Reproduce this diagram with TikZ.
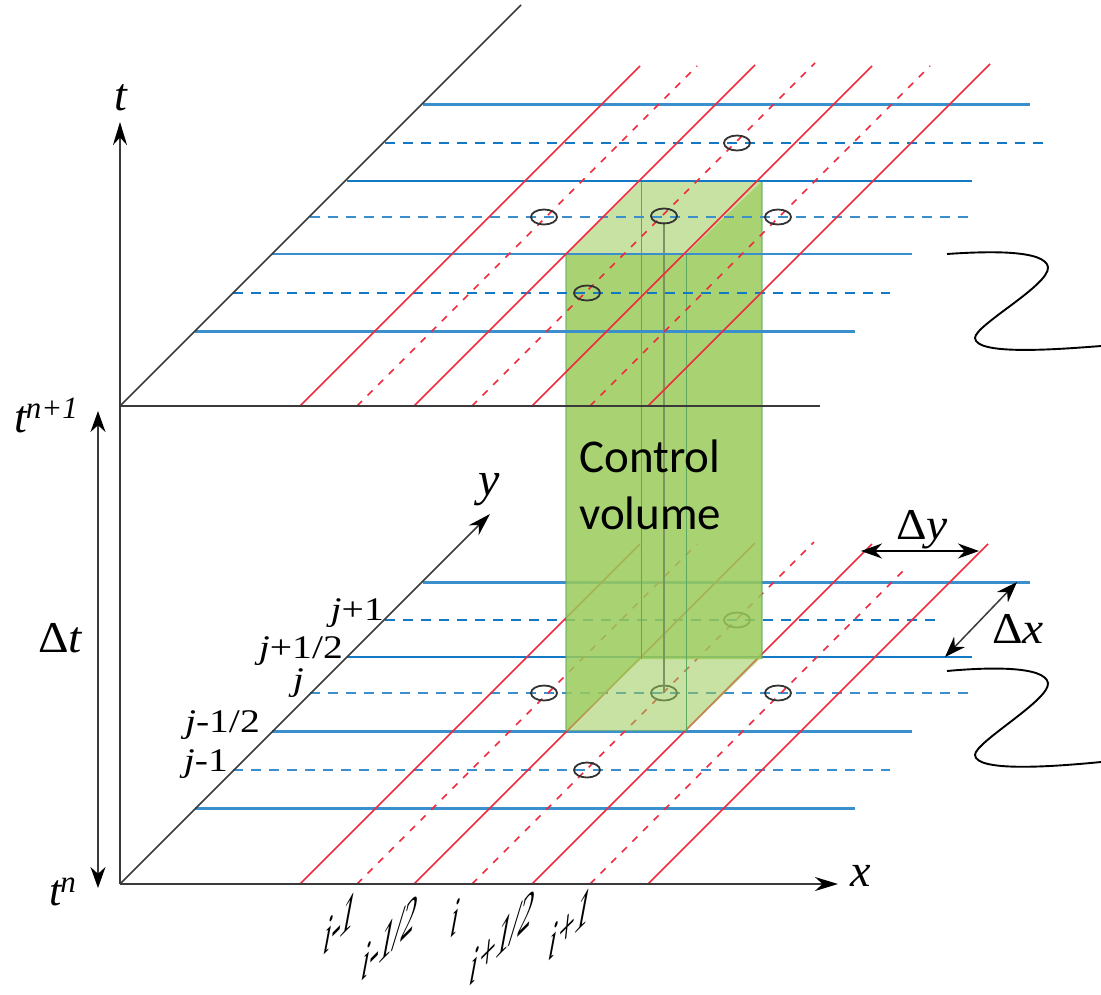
\documentclass[tikz,border=0pt]{standalone}
\usepackage{fontspec}
\usepackage{graphicx}
\setmainfont{Liberation Serif}
\newfontfamily\calfont{Carlito}
\usetikzlibrary{arrows.meta,shapes.geometric}
\definecolor{bluel}{HTML}{3A8FCC}
\definecolor{bluedk}{HTML}{1479C4}
\definecolor{redl}{HTML}{F02A3E}
\definecolor{greend}{HTML}{9ACB59}
\definecolor{greenl}{HTML}{5FA85F}
\definecolor{axisc}{HTML}{3A3A3A}
\definecolor{corec}{HTML}{7A9460}
\tikzset{
  x=1pt,y=-1pt,
  bsolid/.style={draw=bluel,line width=3pt},
  bsolidm/.style={draw=bluel,line width=2.2pt},
  bsolidt/.style={draw=bluedk,line width=1.7pt},
  bdash/.style={draw=bluel,line width=2.8pt,dash pattern=on 10pt off 8pt},
  bdasht/.style={draw=bluedk,line width=1.7pt,dash pattern=on 10pt off 8pt},
  rsolid/.style={draw=redl,line width=1.7pt},
  rdash/.style={draw=redl,line width=1.6pt,dash pattern=on 7pt off 8pt},
  axisl/.style={draw=axisc,line width=2pt},
  diagl/.style={draw=axisc,line width=1.5pt},
  tip/.style={-{Stealth[length=23pt,width=14pt,color=black]}},
  bitip/.style={{Stealth[length=21pt,width=15pt,color=black]}-{Stealth[length=21pt,width=15pt,color=black]}},
  cell/.style={draw=black!80,line width=1.8pt,ellipse,minimum width=26pt,minimum height=15pt,inner sep=0pt},
  lbl/.style={inner sep=0pt,font=\fontsize{33}{33}\selectfont},
  biglbl/.style={inner sep=0pt,font=\fontsize{44}{44}\selectfont},
  ctext/.style={inner sep=0pt,align=left,anchor=north west,font=\calfont\fontsize{47}{57}\selectfont},
}
\newcommand{\tilted}[4]{\begin{scope}[shift={(#2,#3)},cm={0.6,0.6,0.12,1.1,(0,0)}]\node[transform shape,inner sep=0pt,font=\fontsize{48}{48}\selectfont\itshape] (#1) at (0,0) {#4};\end{scope}}
\begin{document}
\begin{tikzpicture}
\useasboundingbox (0,0) rectangle (1101,994);
% lower plane, lying behind the green volume
\draw[bsolid] (195,808) -- (855,808);
\draw[bdash]  (233,770) -- (890,770);
\draw[bsolid] (272,731) -- (912,731);
\draw[bdash]  (310,693) -- (970,693);
\draw[bsolidm,draw=bluedk] (347,657) -- (972,657);
\draw[bdasht] (385,620) -- (940,620);
\draw[bsolid] (423,582) -- (1030,582);
\foreach \s/\e in {300/340,414/341,532/340,648/340}{\draw[rsolid] (\s,884) -- ++(\e,-\e);}
\foreach \s/\e in {357/340,472/342,590/316}{\draw[rdash] (\s,884) -- ++(\e,-\e);}
\foreach \n/\cx/\cy in {a/544/693,b/664/693,c/778/693,d/587/770,e/737/620}{\node[cell] (low\n) at (\cx,\cy) {};}
% control volume
\fill[greend,opacity=.85] (566,254) -- (686,254) -- (762,181) -- (762,659) -- (641,659) -- (566,731) -- cycle;
\fill[greend,opacity=.55] (566,254) -- (641,181) -- (762,181) -- (686,254) -- cycle;
\fill[greend,opacity=.55] (566,731) -- (641,657) -- (762,657) -- (686,731) -- cycle;
\draw[greenl,line width=1pt] (641,181) -- (641,659) (686,254) -- (686,731);
\draw[corec,line width=1.6pt] (664,222) -- (664,693);
\draw[greenl,opacity=.5,line width=1.6pt] (566,254) -- (566,731) (762,181) -- (762,659);
% upper plane
\draw[bsolid] (195,331) -- (855,331);
\draw[bdasht] (233,293) -- (890,293);
\draw[bsolidm] (272,254) -- (912,254);
\draw[bdash]  (310,217) -- (970,217);
\draw[bsolidt] (347,181) -- (972,181);
\draw[bdash,draw=bluedk] (385,143) -- (1043,143);
\draw[bsolid] (423,104) -- (1030,104);
\foreach \s/\e in {300/340,414/341,532/340,648/342}{\draw[rsolid] (\s,406) -- ++(\e,-\e);}
\foreach \s/\e in {357/340,472/343,590/340}{\draw[rdash] (\s,406) -- ++(\e,-\e);}
\foreach \n/\cx/\cy in {a/544/217,b/664/216,c/778/217,d/587/293,e/737/143}{\node[cell] (up\n) at (\cx,\cy) {};}
% axes
\coordinate (org) at (120,884);
\coordinate (orgtop) at (120,406);
\coordinate (tend) at (120,122);
\coordinate (xend) at (838,884);
\coordinate (yend) at (490,514);
\coordinate (x2end) at (820,406);
\coordinate (y2end) at (521,5);
\draw[axisl,tip] (org) -- (tend);
\draw[axisl,tip] (org) -- (xend);
\draw[diagl,tip] (org) -- (yend);
\draw[axisl] (orgtop) -- (x2end);
\draw[diagl] (orgtop) -- (y2end);
% dimension arrows
\coordinate (dta) at (98,411);
\coordinate (dtb) at (98,888);
\coordinate (dya) at (861,551);
\coordinate (dyb) at (979,551);
\coordinate (dxa) at (945,657);
\coordinate (dxb) at (1017,582);
\draw[axisl,bitip] (dta) -- (dtb);
\draw[axisl,bitip,draw=black] (dya) -- (dyb);
\draw[diagl,bitip] (dxa) -- (dxb);
% break marks
\draw[black,line width=1.9pt] (947,254) .. controls (990,251) and (1045,250) .. (1048,267) .. controls (1050,285) and (975,325) .. (975,338) .. controls (976,355) and (1050,350) .. (1101,346);
\draw[black,line width=1.9pt] (947,671) .. controls (990,667) and (1045,666) .. (1048,683) .. controls (1050,700) and (975,742) .. (975,755) .. controls (976,772) and (1050,767) .. (1101,762);
% labels
\node[ctext] (cv) at (579,440) {Control\\volume};
\node[biglbl,font=\fontsize{46}{46}\selectfont\itshape] (tl) at (121,98) {t};
\node[biglbl,font=\fontsize{46}{46}\selectfont\itshape] (xl) at (861,876) {x};
\node[biglbl,font=\fontsize{48}{48}\selectfont\itshape] (yl) at (489,490) {y};
\node[biglbl,anchor=base] (dtl) at (60,652) {\scalebox{1.08}[1]{Δ\itshape t}};
\node[biglbl,anchor=base] (dyl) at (922,539) {\scalebox{1.08}[1]{Δ\itshape y}};
\node[biglbl,anchor=base] (dxl) at (1018,643) {\scalebox{1.08}[1]{Δ\itshape x}};
\node[anchor=base west,inner sep=0pt,font=\fontsize{46}{46}\selectfont\itshape] (tn1) at (14,432) {t\kern-1pt\raisebox{14pt}{\fontsize{31}{31}\selectfont n+1}};
\node[anchor=base west,inner sep=0pt,font=\fontsize{44}{44}\selectfont\itshape] (tn) at (49,905) {t\kern-1pt\raisebox{13pt}{\fontsize{31}{31}\selectfont n}};
\node[lbl,anchor=base east] (l1) at (384,620) {\scalebox{1.2}[1]{\itshape j\upshape +1}};
\node[lbl,anchor=base east] (l2) at (343,658) {\scalebox{1.2}[1]{\itshape j\upshape +1/2}};
\node[lbl,anchor=base east] (l3) at (304,690) {\scalebox{1.2}[1]{\itshape j}};
\node[lbl,anchor=base east] (l4) at (260,732) {\scalebox{1.2}[1]{\itshape j\upshape -1/2}};
\node[lbl,anchor=base east] (l5) at (228,771) {\scalebox{1.2}[1]{\itshape j\upshape -1}};
\tilted{i1}{340}{923}{i-1}
\tilted{i2}{390}{938}{i-1/2}
\tilted{i3}{455}{918}{i}
\tilted{i4}{502}{938}{i+1/2}
\tilted{i5}{570}{924}{i+1}
\end{tikzpicture}
\end{document}
